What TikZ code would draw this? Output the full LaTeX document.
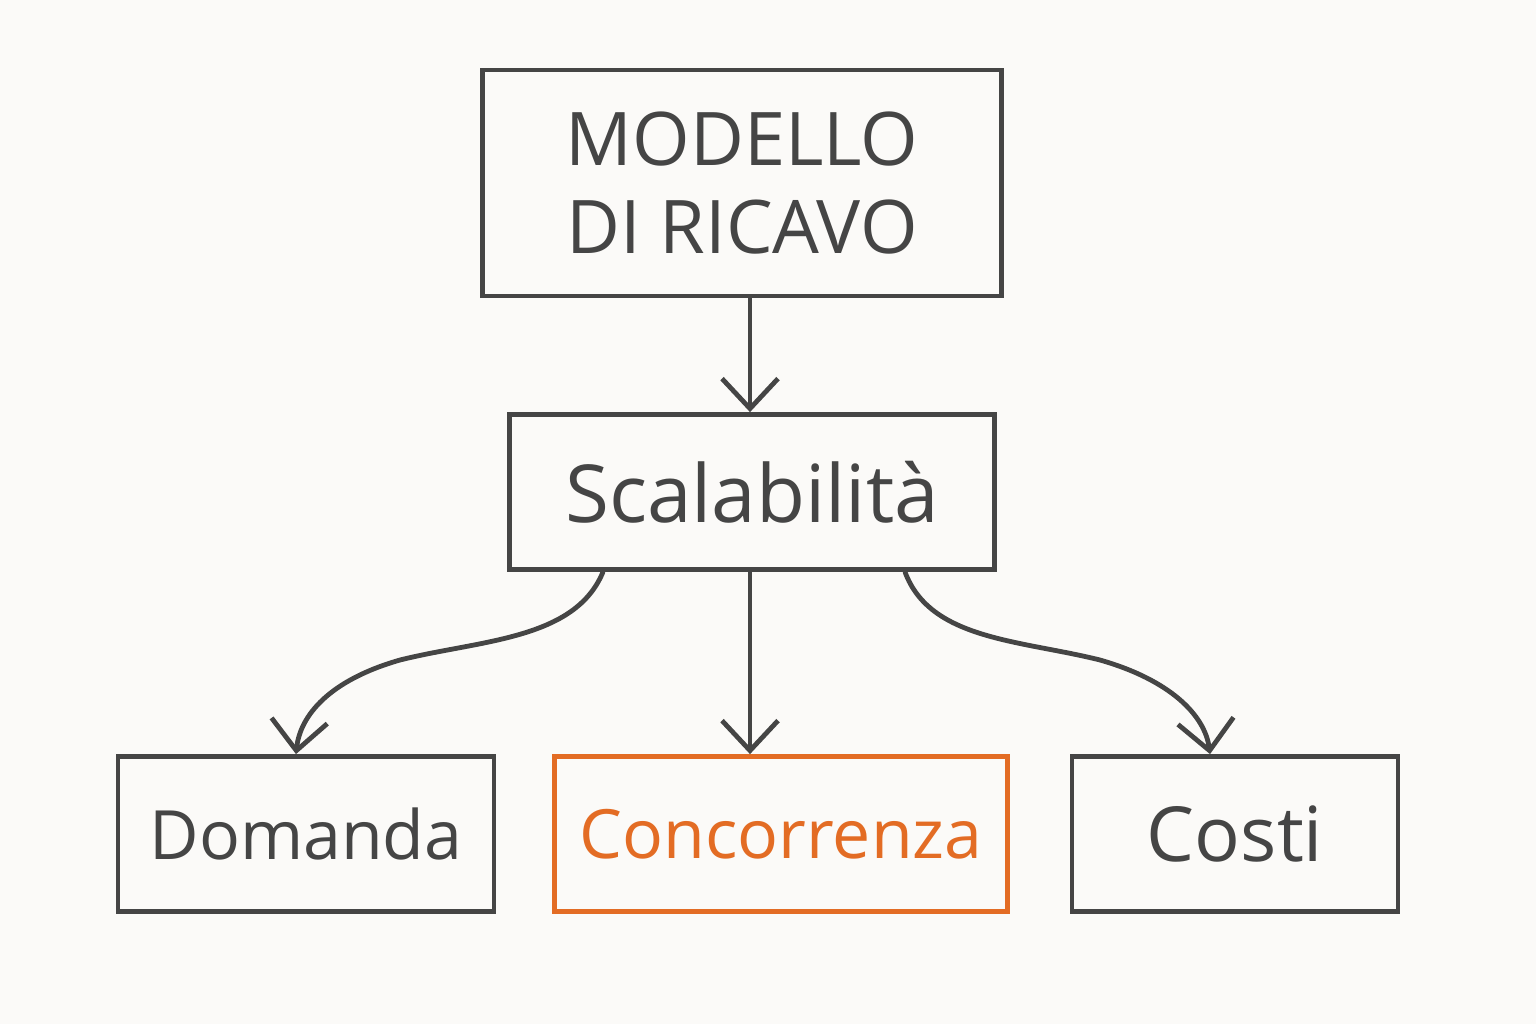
\documentclass[tikz,border=0pt]{standalone}
\usepackage{fontspec}
\setmainfont{Open Sans}
\usetikzlibrary{arrows.meta}
\definecolor{ink}{HTML}{454545}
\definecolor{orng}{HTML}{E36C24}
\definecolor{paper}{HTML}{FBFAF8}
\tikzset{
  box/.style={draw=ink, line width=2.4pt, text=ink, inner sep=0pt, minimum height=77.5pt, align=center},
  link/.style={draw=ink, line width=2.4pt, line cap=round, -{Straight Barb[length=15pt,width=28pt,line width=2.4pt]}},
}
\begin{document}
\begin{tikzpicture}[x=0.5pt,y=-0.5pt]
\fill[paper] (0,0) rectangle (1536,1024);
\useasboundingbox (0,0) rectangle (1536,1024);
\node[box, minimum width=259.5pt, minimum height=113pt, font=\fontsize{37}{44}\selectfont] (top) at (742,183) {MODELLO\\DI RICAVO};
\node[box, minimum width=242.5pt, font=\fontsize{40}{44}\selectfont] (scal) at (752,492) {Scalabilità};
\node[box, minimum width=188pt, font=\fontsize{34}{40}\selectfont] (dom) at (306,834) {Domanda};
\node[box, draw=orng, text=orng, minimum width=226.5pt, font=\fontsize{34}{40}\selectfont] (conc) at (781,834) {Concorrenza};
\node[box, minimum width=163pt, font=\fontsize{38}{40}\selectfont] (cost) at (1235,834) {Costi};
\draw[link] (top.south -| 750,0) -- (scal.north -| 750,0);
\draw[link] (scal.south -| 750,0) -- (conc.north -| 750,0);
\draw[link] (scal.south -| 603,0) .. controls (575,640) and (480,640) .. (400,660) .. controls (330,680) and (300,715) .. (dom.north -| 296,0);
\draw[link] (scal.south -| 905,0) .. controls (930,640) and (1020,640) .. (1100,660) .. controls (1170,680) and (1205,715) .. (cost.north -| 1210,0);
\end{tikzpicture}
\end{document}
